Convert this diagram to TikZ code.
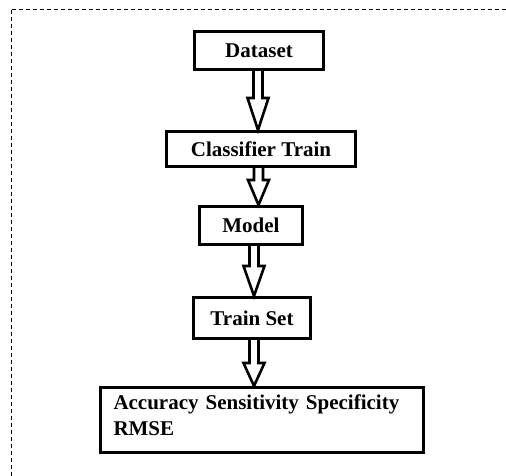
\documentclass[tikz,border=0pt]{standalone}
\usepackage{fontspec}
\setmainfont{Liberation Serif}
\usetikzlibrary{calc}
\tikzset{
  box/.style={draw=black, line width=2.6pt, fill=white, inner sep=0pt,
    font=\fontsize{21}{26}\selectfont\bfseries},
  barrow/.style={draw=black, line width=2.6pt, fill=white, line join=miter},
  frame/.style={draw=black, line width=0.8pt, dash pattern=on 4pt off 3pt}
}
\newcommand\blockarr[4]{%
  \pgfmathsetmacro\xl{#3-4.5}\pgfmathsetmacro\xr{#3+4.5}%
  \pgfmathsetmacro\hl{#3-10.5}\pgfmathsetmacro\hr{#3+10.5}%
  \draw[barrow] (\xl,0 |- #1.south) -- (\xl,#4) -- (\hl,#4) -- (#3,0 |- #2.north)
    -- (\hr,#4) -- (\xr,#4) -- (\xr,0 |- #1.south);
}
\begin{document}
\begin{tikzpicture}[x=1pt,y=-1pt]
\useasboundingbox (0,0) rectangle (506,475);
\draw[frame] (11.7,9.5) -- (510,9.5);
\draw[frame] (11.7,9.5) -- (11.7,480);
\node[box, minimum width=129.5pt, minimum height=38.5pt] (ds) at (259,50.5) {Dataset};
\node[box, minimum width=189.5pt, minimum height=35.5pt] (ct) at (261,149) {Classifier Train};
\node[box, minimum width=103.5pt, minimum height=38.5pt] (md) at (251,225.5) {Model};
\node[box, minimum width=117.5pt, minimum height=41.5pt] (ts) at (252,318) {Train Set};
\node[box, minimum width=323.5pt, minimum height=65.5pt, align=left, text width=297pt]
  (res) at (262,420) {Accuracy Sensitivity Specificity\\RMSE\vphantom{g}\\[-16pt]\mbox{}};
\blockarr{ds}{ct}{258}{98}
\blockarr{ct}{md}{258.5}{180}
\blockarr{md}{ts}{254}{266}
\blockarr{ts}{res}{254}{363}
\end{tikzpicture}
\end{document}
